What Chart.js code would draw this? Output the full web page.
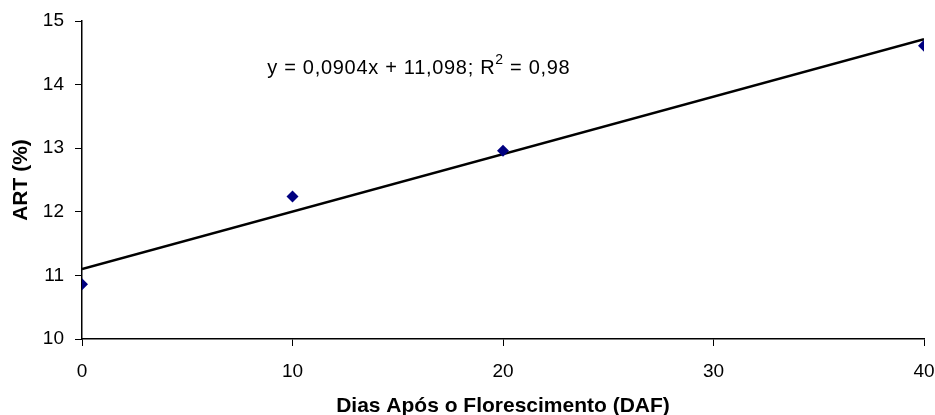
<!DOCTYPE html>
<html>
<head>
  <meta charset="utf-8">
  <title>ART (%) x DAF</title>
  <script src="https://cdn.jsdelivr.net/npm/chart.js"></script>
  <style>
    html, body { margin: 0; padding: 0; background: #fff; }
    .chart-box { position: relative; width: 935px; height: 415px; }
  </style>
</head>
<body>
  <div class="chart-box">
    <canvas id="artChart"></canvas>
  </div>

  <script>
    // values
    const daf = [0, 10, 20, 40];
    const art = [10.86, 12.24, 12.96, 14.61];

    // trendline ends (y = 0,0904x + 11,098)
    const trendX = [0, 40];
    const trendY = [11.098, 14.714];

    const xTicks = [0, 10, 20, 30, 40];
    const yTicks = [10, 11, 12, 13, 14, 15];

    const eqText = 'y = 0,0904x + 11,098; R';
    const eqSup = '2';
    const eqTail = ' = 0,98';
    const eqAt = { x: 8.8, y: 14.25 }; // in data units

    const FONT = "'Liberation Sans', Arial, sans-serif";

    const equationLabel = {
      id: 'equationLabel',
      afterDatasetsDraw(chart) {
        const { ctx, scales } = chart;
        const px = scales.x.getPixelForValue(eqAt.x);
        const py = scales.y.getPixelForValue(eqAt.y);
        ctx.save();
        ctx.fillStyle = '#000';
        ctx.textBaseline = 'middle';
        ctx.textAlign = 'left';
        ctx.letterSpacing = '0.7px';
        ctx.font = '20px ' + FONT;
        ctx.fillText(eqText, px, py);
        let w = ctx.measureText(eqText).width;
        ctx.font = '14px ' + FONT;
        ctx.fillText(eqSup, px + w, py - 9);
        w += ctx.measureText(eqSup).width;
        ctx.font = '20px ' + FONT;
        ctx.fillText(eqTail, px + w, py);
        ctx.restore();
      }
    };

    new Chart(document.getElementById('artChart'), {
      type: 'scatter',
      data: {
        datasets: [
          {
            label: 'ART',
            data: daf.map((x, i) => ({ x, y: art[i] })),
            pointStyle: 'rectRot',
            pointRadius: 6,
            backgroundColor: '#000080',
            borderColor: '#000080',
            borderWidth: 0,
            order: 1
          },
          {
            label: 'Linear',
            type: 'line',
            data: trendX.map((x, i) => ({ x, y: trendY[i] })),
            borderColor: '#000',
            borderWidth: 2.5,
            pointRadius: 0,
            fill: false,
            order: 2
          }
        ]
      },
      options: {
        responsive: true,
        maintainAspectRatio: false,
        animation: false,
        layout: { padding: { left: 0, top: 21, right: 11, bottom: 0 } },
        plugins: {
          legend: { display: false },
          tooltip: { enabled: false }
        },
        scales: {
          x: {
            type: 'linear',
            min: 0,
            max: 40,
            afterBuildTicks: (s) => { s.ticks = xTicks.map(v => ({ value: v })); },
            afterFit: (s) => { s.height = 76; s.paddingLeft = 0; s.paddingRight = 0; },
            grid: { drawOnChartArea: false, drawTicks: true, tickLength: 7, color: '#000', lineWidth: 1 },
            border: { display: true, color: '#000', width: 1.5 },
            ticks: { color: '#000', padding: 14, font: { family: FONT, size: 19 } },
            title: {
              display: true,
              text: 'Dias Após o Florescimento (DAF)',
              color: '#000',
              font: { family: FONT, size: 21, weight: 'bold', lineHeight: 0.8 },
              padding: { top: 0, bottom: 0 }
            }
          },
          y: {
            type: 'linear',
            min: 10,
            max: 15,
            afterBuildTicks: (s) => { s.ticks = yTicks.map(v => ({ value: v })); },
            afterFit: (s) => { s.width = 82; s.paddingTop = 0; s.paddingBottom = 0; },
            grid: { drawOnChartArea: false, drawTicks: true, tickLength: 7, color: '#000', lineWidth: 1 },
            border: { display: true, color: '#000', width: 1.5 },
            ticks: { color: '#000', padding: 11, font: { family: FONT, size: 19 } },
            title: {
              display: true,
              text: 'ART (%)',
              color: '#000',
              font: { family: FONT, size: 21, weight: 'bold' },
              padding: { top: 9, bottom: 0 }
            }
          }
        }
      },
      plugins: [equationLabel]
    });
  </script>
</body>
</html>
